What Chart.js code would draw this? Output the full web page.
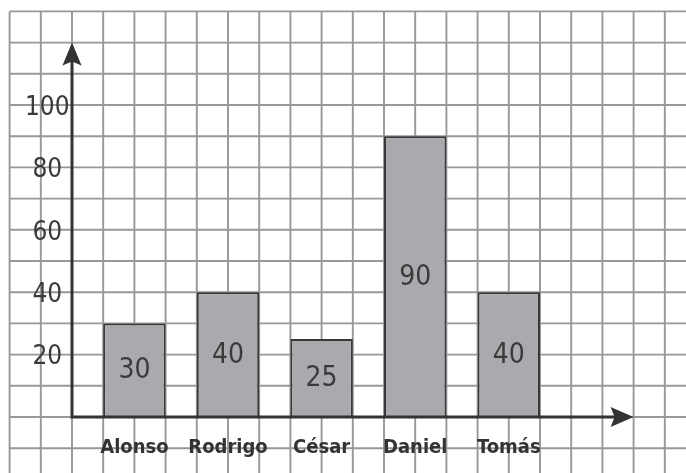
<!DOCTYPE html>
<html>
<head>
<meta charset="utf-8">
<script src="https://cdn.jsdelivr.net/npm/chart.js@4/dist/chart.umd.min.js"></script>
<style>
  html, body { margin: 0; padding: 0; background: #ffffff; }
  #wrap { width: 686px; height: 473px; position: relative; }
</style>
</head>
<body>
<div id="wrap"><canvas id="barChart"></canvas></div>
<script>
var names = ["Alonso", "Rodrigo", "César", "Daniel", "Tomás"];
var amounts = [30, 40, 25, 90, 40];
var yTicks = [20, 40, 60, 80, 100];

var FONT = "'DejaVu Sans Condensed', 'DejaVu Sans', sans-serif";

// squared paper behind everything, spaced at 10 units of the y scale
var paperGrid = {
  id: "paperGrid",
  beforeDraw: function (chart) {
    var ctx = chart.ctx;
    var y = chart.scales.y;
    var area = chart.chartArea;
    var cell = (y.getPixelForValue(0) - y.getPixelForValue(120)) / 12;
    var ox = area.left - cell / 2;
    var oy = y.getPixelForValue(0);
    var left = ox - 2 * cell;
    var top = oy - 13 * cell;

    ctx.save();
    ctx.fillStyle = "#ffffff";
    ctx.fillRect(0, 0, chart.width, chart.height);
    ctx.strokeStyle = "#98989a";
    ctx.lineWidth = 1.9;
    ctx.beginPath();
    for (var k = -2; ox + k * cell <= chart.width + 1; k++) {
      var gx = ox + k * cell;
      ctx.moveTo(gx, top);
      ctx.lineTo(gx, chart.height);
    }
    for (var j = -13; oy + j * cell <= chart.height + 1; j++) {
      var gy = oy + j * cell;
      ctx.moveTo(left, gy);
      ctx.lineTo(chart.width, gy);
    }
    ctx.stroke();
    ctx.restore();
  }
};

// arrowed axes and the value written inside each bar
var axesAndValues = {
  id: "axesAndValues",
  afterDatasetsDraw: function (chart) {
    var ctx = chart.ctx;
    var y = chart.scales.y;
    var area = chart.chartArea;
    var cell = (y.getPixelForValue(0) - y.getPixelForValue(120)) / 12;
    var ox = area.left - cell / 2;
    var oy = y.getPixelForValue(0);
    var yTip = y.getPixelForValue(120);
    var xTip = ox + 18 * cell;

    ctx.save();
    ctx.strokeStyle = "#333333";
    ctx.fillStyle = "#333333";
    ctx.lineWidth = 3;
    ctx.beginPath();
    ctx.moveTo(ox, oy);
    ctx.lineTo(ox, yTip + 18);
    ctx.moveTo(ox - 1.5, oy);
    ctx.lineTo(xTip - 18, oy);
    ctx.stroke();

    ctx.beginPath();
    ctx.moveTo(ox, yTip);
    ctx.lineTo(ox - 9.5, yTip + 23);
    ctx.lineTo(ox, yTip + 19);
    ctx.lineTo(ox + 9.5, yTip + 23);
    ctx.closePath();
    ctx.fill();

    ctx.beginPath();
    ctx.moveTo(xTip, oy);
    ctx.lineTo(xTip - 23, oy - 10);
    ctx.lineTo(xTip - 19, oy);
    ctx.lineTo(xTip - 23, oy + 10);
    ctx.closePath();
    ctx.fill();

    ctx.fillStyle = "#3a3a3a";
    ctx.font = "28px " + FONT;
    ctx.textAlign = "center";
    ctx.textBaseline = "middle";
    chart.getDatasetMeta(0).data.forEach(function (bar, i) {
      ctx.fillText(String(amounts[i]), bar.x, (bar.y + bar.base) / 2 + 1);
    });
    ctx.restore();
  }
};

new Chart(document.getElementById("barChart"), {
  type: "bar",
  data: {
    labels: names,
    datasets: [
      {
        data: amounts,
        backgroundColor: "#aaaaae",
        borderColor: "#383838",
        borderWidth: 2,
        borderSkipped: "bottom",
        barPercentage: 2 / 3,
        categoryPercentage: 1,
      },
    ],
  },
  options: {
    responsive: true,
    maintainAspectRatio: false,
    animation: false,
    layout: {
      padding: { top: 42.6, right: 130.4, bottom: 0, left: 0 },
    },
    plugins: {
      legend: { display: false },
      title: { display: false },
      tooltip: { enabled: false },
    },
    scales: {
      x: {
        offset: true,
        grid: { display: false, drawTicks: false },
        border: { display: false },
        ticks: {
          color: "#333333",
          padding: 19,
          maxRotation: 0,
          autoSkip: false,
          font: { family: FONT, size: 20, weight: "bold" },
        },
        afterFit: function (scale) {
          scale.height = 56;
        },
      },
      y: {
        min: 0,
        max: 120,
        grid: { display: false, drawTicks: false },
        border: { display: false },
        afterBuildTicks: function (scale) {
          scale.ticks = yTicks.map(function (v) {
            return { value: v };
          });
        },
        ticks: {
          color: "#3a3a3a",
          padding: 18,
          labelOffset: 3,
          crossAlign: "center",
          font: { family: FONT, size: 26 },
        },
        afterFit: function (scale) {
          scale.width = 87.6;
        },
      },
    },
  },
  plugins: [paperGrid, axesAndValues],
});
</script>
</body>
</html>
